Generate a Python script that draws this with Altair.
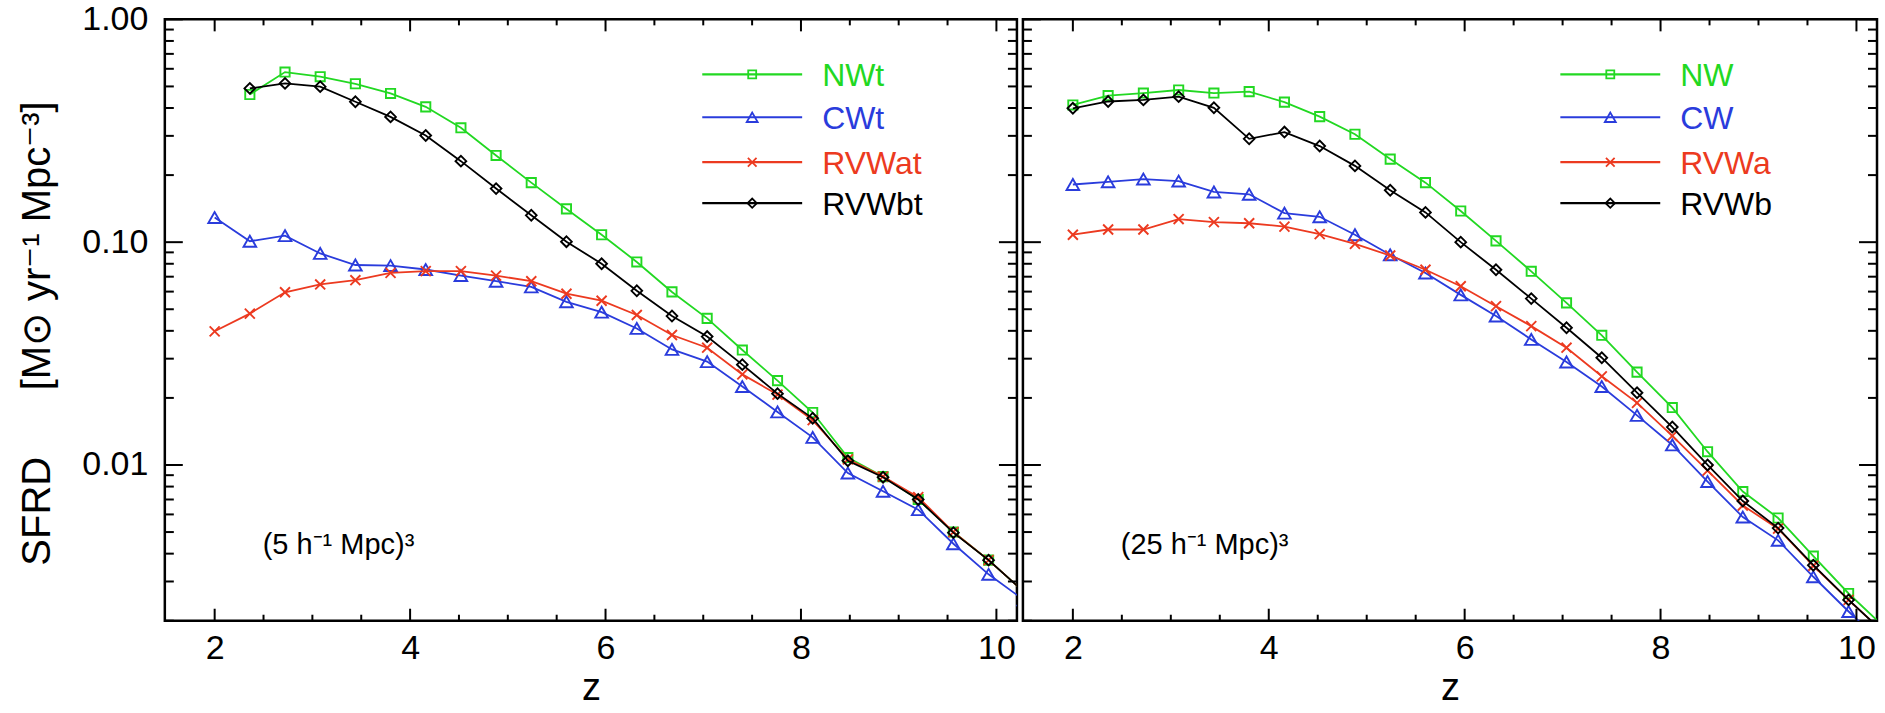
import altair as alt
import pandas as pd

# ---- data ----
Z = [2.00, 2.36, 2.72, 3.08, 3.44, 3.80, 4.16, 4.52, 4.88, 5.24, 5.60, 5.96,
     6.32, 6.68, 7.04, 7.40, 7.76, 8.12, 8.48, 8.84, 9.20, 9.56, 9.92, 10.28]

# left panel: (5 h^-1 Mpc)^3
NWt = [None, 0.46, 0.58, 0.553, 0.514, 0.465, 0.405, 0.326, 0.245, 0.185, 0.141, 0.108,
       0.0815, 0.0598, 0.0455, 0.0328, 0.0239, 0.0172, 0.0108, 0.00887, 0.0070, 0.0050, 0.00374, 0.0027]
CWt = [0.129, 0.101, 0.107, 0.089, 0.079, 0.0785, 0.0754, 0.0708, 0.0668, 0.063, 0.054, 0.0485,
       0.041, 0.033, 0.0291, 0.0225, 0.0173, 0.0133, 0.0092, 0.00762, 0.0063, 0.00443, 0.00323, 0.00248]
RVWat = [0.0398, 0.0478, 0.0596, 0.0646, 0.0675, 0.0728, 0.0741, 0.0741, 0.0708, 0.0668, 0.0587, 0.0546,
         0.0471, 0.0383, 0.0336, 0.0255, 0.0207, 0.0159, 0.0106, 0.00887, 0.00717, 0.0050, 0.00374, 0.0027]
RVWbt = [None, 0.49, 0.516, 0.499, 0.427, 0.365, 0.301, 0.231, 0.174, 0.132, 0.1005, 0.080,
         0.0605, 0.0466, 0.0377, 0.0282, 0.0209, 0.0162, 0.01045, 0.00881, 0.0070, 0.00497, 0.00374, 0.0027]

# right panel: (25 h^-1 Mpc)^3
NW = [0.413, 0.455, 0.467, 0.482, 0.467, 0.474, 0.425, 0.366, 0.305, 0.236, 0.185, 0.138,
      0.1014, 0.074, 0.0534, 0.0382, 0.0261, 0.0181, 0.01147, 0.0076, 0.00578, 0.0039, 0.00265, 0.00188]
CW = [0.1815, 0.1866, 0.192, 0.188, 0.168, 0.164, 0.135, 0.130, 0.108, 0.0878, 0.0727, 0.058,
      0.0466, 0.0366, 0.029, 0.0225, 0.0167, 0.0123, 0.00843, 0.00584, 0.00459, 0.00315, 0.0022, 0.00156]
RVWa = [0.108, 0.114, 0.114, 0.127, 0.123, 0.1216, 0.1175, 0.1086, 0.0983, 0.0871, 0.0752, 0.0634,
        0.0516, 0.042, 0.0336, 0.025, 0.019, 0.0135, 0.00944, 0.00658, 0.00518, 0.00353, 0.00248, 0.00177]
RVWb = [0.399, 0.428, 0.435, 0.450, 0.401, 0.291, 0.312, 0.270, 0.220, 0.171, 0.136, 0.100,
        0.0752, 0.0558, 0.0413, 0.0303, 0.0211, 0.0148, 0.0100, 0.00689, 0.00521, 0.00355, 0.00248, 0.00177]

NAMES_L = ["NWt", "CWt", "RVWat", "RVWbt"]
NAMES_R = ["NW", "CW", "RVWa", "RVWb"]
BOX_L = "(5 h\u207b\u00b9 Mpc)\u00b3"
BOX_R = "(25 h\u207b\u00b9 Mpc)\u00b3"
Y_TITLE = "SFRD\u00a0\u00a0\u00a0\u00a0\u00a0 [M\u2299 yr\u207b\u00b9 Mpc\u207b\u00b3]"

Y_MAJOR = [0.01, 0.1, 1.0]
Y_MINOR = [0.002, 0.003, 0.004, 0.005, 0.006, 0.007, 0.008, 0.009,
           0.02, 0.03, 0.04, 0.05, 0.06, 0.07, 0.08, 0.09,
           0.2, 0.3, 0.4, 0.5, 0.6, 0.7, 0.8, 0.9]
X_MAJOR = [2, 4, 6, 8, 10]
X_MINOR = [2.5, 3, 3.5, 4.5, 5, 5.5, 6.5, 7, 7.5, 8.5, 9, 9.5]

# ---- styles ----
COLORS = ["#22d822", "#2a3cdc", "#ec3a20", "#000000"]
XPATH = "M-1,-1L1,1M-1,1L1,-1"
SHAPES = ["square", "triangle-up", XPATH, "diamond"]
SIZES = [85, 160, 100, 115]
FONT = "Liberation Sans"
H = 602
W_L = 853
W_R = 855
LEG_Y = [55, 98, 143, 184]


def series_df(values):
    rows = [{"z": z, "sfrd": v} for z, v in zip(Z, values) if v is not None]
    return pd.DataFrame(rows)


def panel(names, arrays, width, box_text, show_y):
    xs = alt.Scale(domain=[1.49, 10.21], nice=False, zero=False)
    ys = alt.Scale(type="log", domain=[0.002, 1.0], nice=False)
    xaxis = alt.Axis(values=X_MAJOR, title="z", labelFontSize=34, titleFontSize=38,
                     labelPadding=11, titlePadding=4, ticks=False, tickSize=0,
                     domain=False, grid=False, labelFlush=False, labelFont=FONT,
                     titleFont=FONT, titleFontWeight="normal", labelColor="black",
                     titleColor="black")
    if show_y:
        yaxis = alt.Axis(values=Y_MAJOR, format=".2f", title=Y_TITLE,
                         labelFontSize=34, titleFontSize=40, labelPadding=17,
                         titlePadding=24, titleY=314, ticks=False, tickSize=0, domain=False,
                         grid=False, labelFlush=False, labelFont=FONT, titleFont=FONT,
                         titleFontWeight="normal", labelColor="black", titleColor="black")
    else:
        yaxis = None

    X = lambda f: alt.X(f, scale=xs, axis=xaxis)
    Y = lambda f: alt.Y(f, scale=ys, axis=yaxis)

    layers = []
    for i, (name, arr) in enumerate(zip(names, arrays)):
        df = series_df(arr)
        layers.append(alt.Chart(df).mark_line(color=COLORS[i], strokeWidth=1.8, clip=True).encode(
            x=X("z:Q"), y=Y("sfrd:Q")))
        layers.append(alt.Chart(df).mark_point(color=COLORS[i], shape=SHAPES[i], size=SIZES[i],
                                               filled=False, strokeWidth=1.9, opacity=1,
                                               clip=True).encode(x=X("z:Q"), y=Y("sfrd:Q")))

    # inward ticks on all four sides
    ymaj = pd.DataFrame({"v": Y_MAJOR})
    ymin = pd.DataFrame({"v": Y_MINOR})
    xmaj = pd.DataFrame({"v": X_MAJOR})
    xmin = pd.DataFrame({"v": X_MINOR})
    for d, L in ((ymaj, 18), (ymin, 9)):
        base = alt.Chart(d).mark_rule(color="black", strokeWidth=2)
        layers.append(base.encode(y=Y("v:Q"), x=alt.value(0), x2=alt.value(L)))
        layers.append(base.encode(y=Y("v:Q"), x=alt.value(width), x2=alt.value(width - L)))
    for d, L in ((xmaj, 12), (xmin, 6)):
        base = alt.Chart(d).mark_rule(color="black", strokeWidth=2)
        layers.append(base.encode(x=X("v:Q"), y=alt.value(H), y2=alt.value(H - L)))
        layers.append(base.encode(x=X("v:Q"), y=alt.value(0), y2=alt.value(L)))

    # legend (top right, inside)
    for i, name in enumerate(names):
        ld = pd.DataFrame({"name": [name]})
        layers.append(alt.Chart(ld).mark_rule(color=COLORS[i], strokeWidth=2.2).encode(
            x=alt.value(538), x2=alt.value(638), y=alt.value(LEG_Y[i])))
        layers.append(alt.Chart(ld).mark_point(color=COLORS[i], shape=SHAPES[i], size=SIZES[i] * 0.75,
                                               filled=False, strokeWidth=1.8, opacity=1).encode(
            x=alt.value(588), y=alt.value(LEG_Y[i])))
        layers.append(alt.Chart(ld).mark_text(color=COLORS[i], fontSize=32, font=FONT, align="left",
                                              baseline="middle").encode(
            x=alt.value(658), y=alt.value(LEG_Y[i] + 2), text="name:N"))

    # box size annotation
    bd = pd.DataFrame({"t": [box_text]})
    layers.append(alt.Chart(bd).mark_text(color="black", fontSize=29, font=FONT, align="left",
                                          baseline="middle").encode(
        x=alt.value(98), y=alt.value(526), text="t:N"))

    return alt.layer(*layers).properties(width=width, height=H)


left = panel(NAMES_L, [NWt, CWt, RVWat, RVWbt], W_L, BOX_L, True)
right = panel(NAMES_R, [NW, CW, RVWa, RVWb], W_R, BOX_R, False)

chart = alt.hconcat(left, right, spacing=0).properties(
    padding={"left": 16, "top": 0, "right": 5, "bottom": 6}
).configure_view(stroke="black", strokeWidth=2.5).configure_concat(spacing=0)

chart.save("out.html", embed_options={"renderer": "svg", "actions": False})
